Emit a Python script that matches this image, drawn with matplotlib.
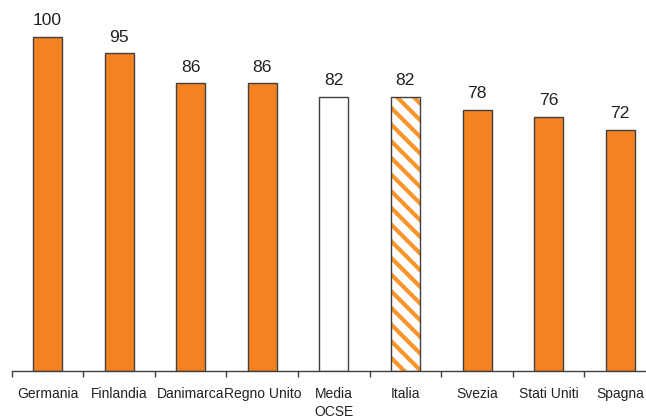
import matplotlib.pyplot as plt
import numpy as np

plt.rcParams['font.family'] = ['Liberation Sans', 'DejaVu Sans']
plt.rcParams['hatch.linewidth'] = 3.0

countries = ['Germania', 'Finlandia', 'Danimarca', 'Regno Unito', 'Media\nOCSE',
             'Italia', 'Svezia', 'Stati Uniti', 'Spagna']
values = [100, 95, 86, 86, 82, 82, 78, 76, 72]
styles = ['solid', 'solid', 'solid', 'solid', 'empty', 'hatch', 'solid', 'solid', 'solid']

orange = '#F58220'
hatch_orange = '#F8952B'
edge = '#404040'

fig = plt.figure(figsize=(6.46, 4.2), dpi=100)
ax = fig.add_axes([11.7 / 646, 49.3 / 420, (656 - 11.7) / 646, 370.7 / 420])

x = np.arange(len(countries))
for xi, v, s in zip(x, values, styles):
    if s == 'solid':
        ax.bar(xi, v, width=0.405, color=orange, edgecolor=edge, linewidth=1)
    elif s == 'empty':
        ax.bar(xi, v, width=0.405, color='white', edgecolor=edge, linewidth=1)
    else:
        ax.bar(xi, v, width=0.405, color='white', edgecolor=hatch_orange, linewidth=0,
               hatch='\\\\')
        ax.bar(xi, v, width=0.405, fill=False, edgecolor=edge, linewidth=1)
    ax.annotate(str(v), (xi, v), xytext=(0, 8.5), textcoords='offset points',
                ha='center', va='baseline', fontsize=12.6, color='#222222')

ax.set_xlim(-0.5, len(countries) - 0.5)
ax.set_ylim(0, 111)
ax.set_xticks(np.arange(len(countries) + 1) - 0.5)
ax.set_xticklabels([])
ax.set_xticks(x, minor=True)
ax.set_xticklabels(countries, minor=True, fontsize=10, color='#222222', linespacing=1.35)
ax.tick_params(axis='x', which='major', length=4, width=1, color=edge, direction='out')
ax.tick_params(axis='x', which='minor', length=0, pad=11.5)
ax.set_yticks([])
for side in ['top', 'right', 'left']:
    ax.spines[side].set_visible(False)
ax.spines['bottom'].set_color(edge)
ax.spines['bottom'].set_linewidth(1)

fig.savefig('out.png', dpi=100)
